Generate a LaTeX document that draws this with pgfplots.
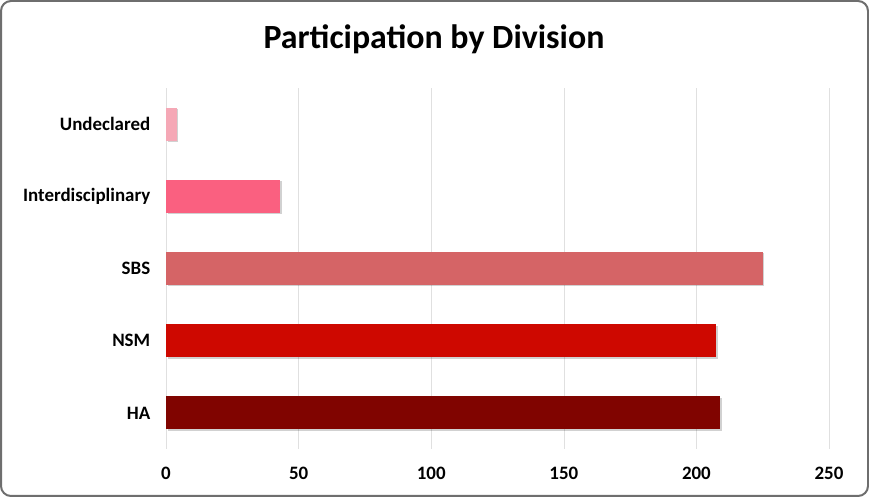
\documentclass[border=0pt]{standalone}
\usepackage{pgfplots}
\pgfplotsset{compat=1.18}
\usepackage{fontspec}
\setmainfont{Carlito}
\definecolor{frameC}{RGB}{110,110,110}
\definecolor{cHA}{RGB}{128,4,0}
\definecolor{cNSM}{RGB}{206,8,0}
\definecolor{cSBS}{RGB}{213,100,102}
\definecolor{cINT}{RGB}{250,96,128}
\definecolor{cUND}{RGB}{245,168,182}
\begin{document}
\begin{tikzpicture}[x=1bp,y=1bp]
\draw[frameC, line width=2bp, rounded corners=10bp] (1,1) rectangle (868,496);
\node[font=\bfseries\fontsize{34}{38}\selectfont, anchor=base] at (434,448) {Participation by Division};
\begin{axis}[at={(166bp,48bp)}, anchor=south west, scale only axis,
  width=663bp, height=361bp,
  xmin=0, xmax=250, ymin=-0.5, ymax=4.5,
  xbar, bar width=33bp, bar shift=0pt,
  ytick={0,...,4}, yticklabels={HA,NSM,SBS,Interdisciplinary,Undeclared},
  xtick={0,50,...,250},
  xmajorgrids, major grid style={color=black!12},
  axis line style={draw=none}, tick style={draw=none},
  ticklabel style={font=\bfseries\fontsize{19}{21}\selectfont},
  xticklabel style={yshift=-15bp},
  yticklabel style={xshift=-8bp},
  /pgf/number format/assume math mode=true,
  every axis plot/.append style={preaction={fill=black, opacity=0.18, transform canvas={xshift=1.5bp, yshift=-1.5bp}}},
  clip=false]
\addplot[fill=cHA, draw=none] coordinates {(209,0)};
\addplot[fill=cNSM, draw=none] coordinates {(207.5,1)};
\addplot[fill=cSBS, draw=none] coordinates {(225,2)};
\addplot[fill=cINT, draw=none] coordinates {(43,3)};
\addplot[fill=cUND, draw=none] coordinates {(4,4)};
\end{axis}
\end{tikzpicture}
\end{document}
